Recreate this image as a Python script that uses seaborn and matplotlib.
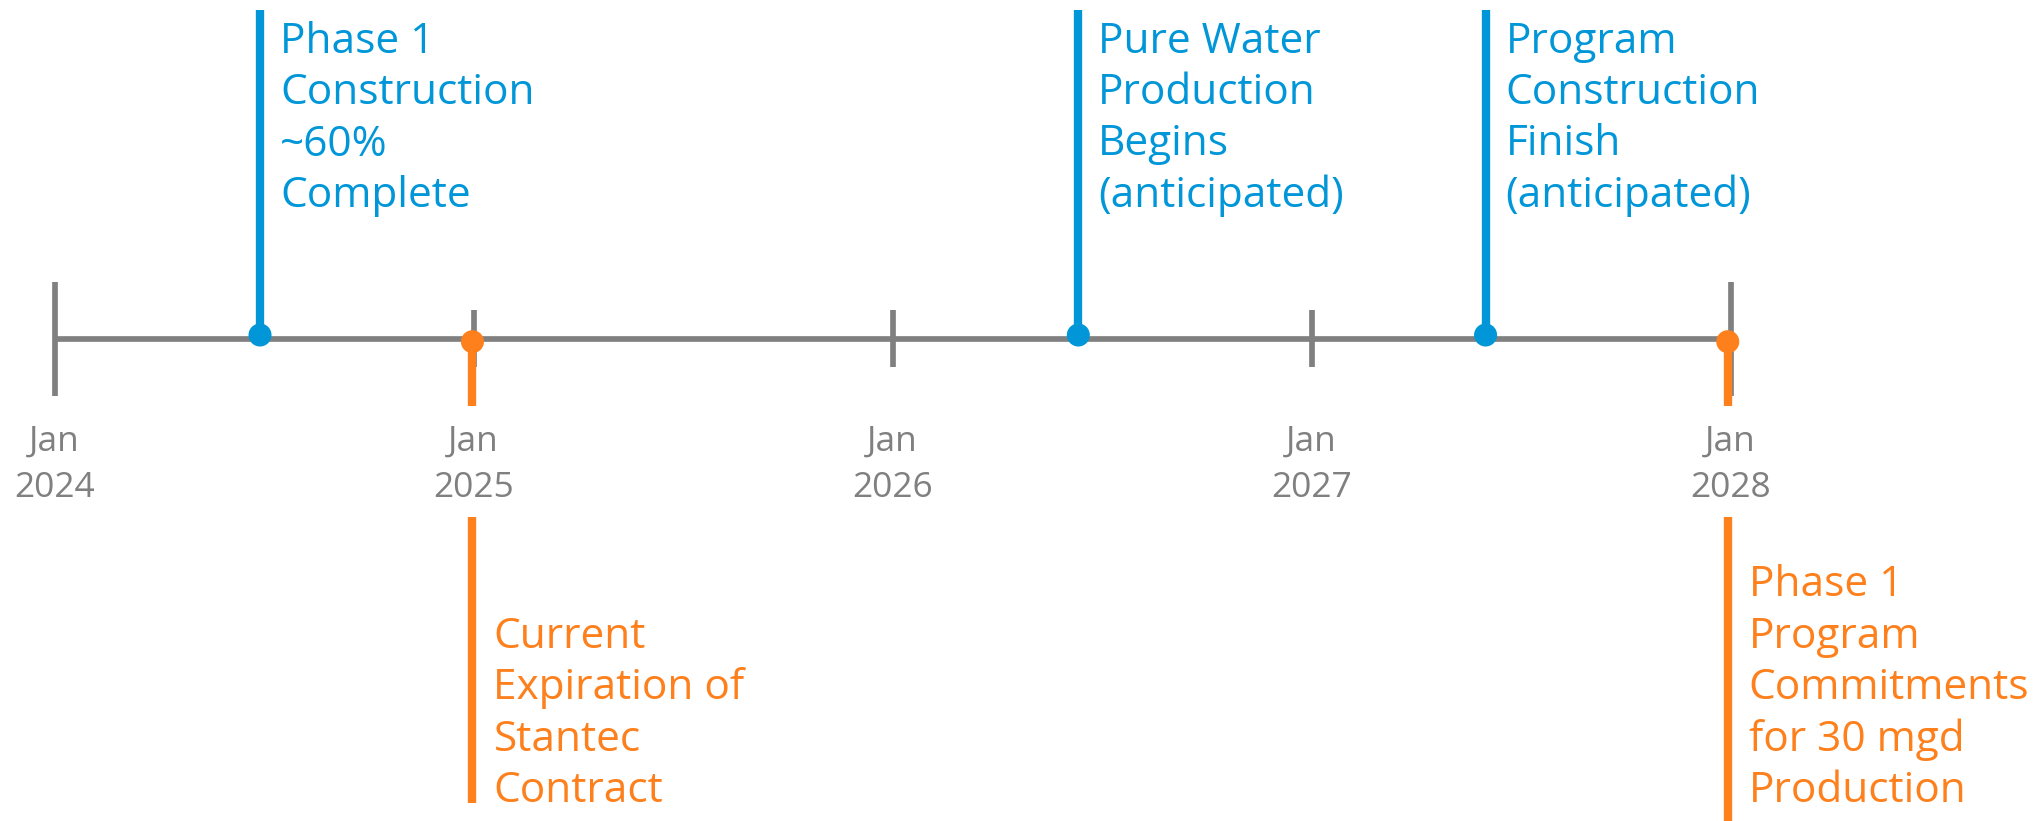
import matplotlib
matplotlib.use('Agg')
import matplotlib.pyplot as plt
import seaborn as sns
import pandas as pd

# ── Data ──────────────────────────────────────────────────────────────
years = [2024, 2025, 2026, 2027, 2028]
tick_labels = ['Jan\n2024', 'Jan\n2025', 'Jan\n2026', 'Jan\n2027', 'Jan\n2028']

event_dates = [2024.49, 2024.997, 2026.443, 2027.415, 2027.993]
event_labels = [
    'Phase 1\nConstruction\n~60%\nComplete',
    'Current\nExpiration of\nStantec\nContract',
    'Pure Water\nProduction\nBegins\n(anticipated)',
    'Program\nConstruction\nFinish\n(anticipated)',
    'Phase 1\nProgram\nCommitments\nfor 30 mgd\nProduction',
]
event_side = ['above', 'below', 'above', 'above', 'below']

# ── Style ─────────────────────────────────────────────────────────────
BLUE = '#0096D8'
ORANGE = '#FD801C'
GRAY = '#808080'

sns.set_theme(style='white')
plt.rcParams['font.family'] = ['Open Sans', 'DejaVu Sans']

W, H = 2044, 821
PX_PER_YEAR = 419.0
X0_PX = 54.7
LINE_Y = 339


def px(n):
    """horizontal pixels -> years"""
    return n / PX_PER_YEAR


fig = plt.figure(figsize=(W / 100, H / 100), dpi=100)
ax = fig.add_axes([0, 0, 1, 1])
ax.set_xlim(years[0] - px(X0_PX), years[0] + px(W - X0_PX))
ax.set_ylim(H, 0)
ax.axis('off')

# ── Timeline axis ─────────────────────────────────────────────────────
axis_df = pd.DataFrame({'x': [years[0], years[-1]], 'y': [LINE_Y, LINE_Y]})
sns.lineplot(data=axis_df, x='x', y='y', color=GRAY, lw=4.1, ax=ax,
             solid_capstyle='butt', legend=False)

for i, (yr, lab) in enumerate(zip(years, tick_labels)):
    major = i in (0, len(years) - 1)
    half = 57 if major else 28.5
    ax.vlines(yr, LINE_Y - half, LINE_Y + half, color=GRAY, lw=4.1, zorder=2)
    # multi-line baseline = baseline of the last line
    ax.text(yr, 497, lab, ha='center', va='baseline', fontsize=25.5,
            color=GRAY, linespacing=1.47)

# ── Events ────────────────────────────────────────────────────────────
ev = pd.DataFrame({'date': event_dates, 'label': event_labels, 'side': event_side})
ev['dot_y'] = ev['side'].map({'above': 335, 'below': 341.7})

for _, r in ev.iterrows():
    if r['side'] == 'above':
        ax.vlines(r['date'], 10, r['dot_y'], color=BLUE, lw=6, zorder=3)
        ax.text(r['date'] + px(20), 207, r['label'], ha='left', va='baseline',
                fontsize=30.5, color=BLUE, linespacing=1.29)
    else:
        n_lines = r['label'].count('\n') + 1
        ax.vlines(r['date'], r['dot_y'], 406, color=ORANGE, lw=6, zorder=3)
        ax.vlines(r['date'], 517, 803 + (n_lines - 4) * 51, color=ORANGE, lw=6, zorder=3)
        ax.text(r['date'] + px(21), 802, r['label'], ha='left', va='baseline',
                fontsize=30.5, color=ORANGE, linespacing=1.29)

sns.scatterplot(data=ev, x='date', y='dot_y', hue='side',
                palette={'above': BLUE, 'below': ORANGE}, s=275,
                linewidth=0, legend=False, ax=ax, zorder=4)

ax.set_xlabel('')
ax.set_ylabel('')
fig.savefig('out.png', dpi=100, facecolor='white')
